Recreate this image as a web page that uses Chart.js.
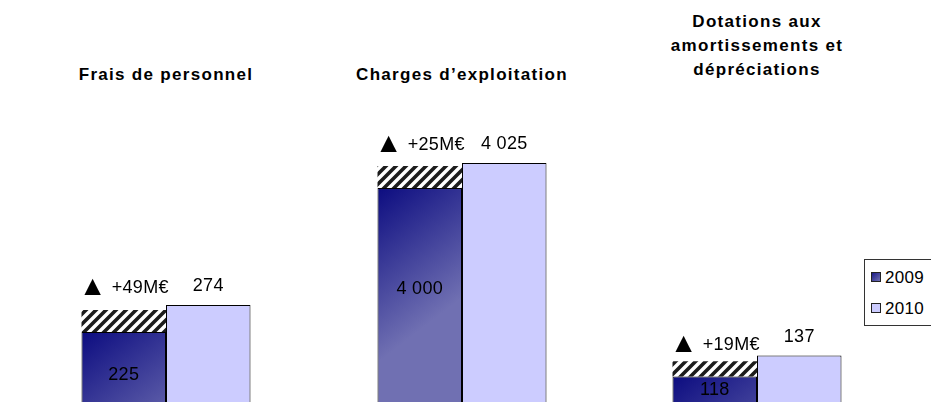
<!DOCTYPE html>
<html>
<head>
<meta charset="utf-8">
<script src="https://cdn.jsdelivr.net/npm/chart.js@4.4.0/dist/chart.umd.min.js"></script>
<style>
  body { margin: 0; background: #fff; }
  #wrap { position: relative; width: 931px; height: 402px; overflow: hidden; font-family: "Liberation Sans", Arial, sans-serif; }
  .box { position: absolute; top: 0; width: 200px; height: 402px; }
  .title { position: absolute; width: 260px; text-align: center; font-weight: bold; font-size: 17px; letter-spacing: 1.3px; line-height: 24px; color: #000; }
  #legend { position: absolute; left: 864px; top: 259px; width: 90px; height: 65px; border: 1px solid #333; }
  .item { position: absolute; left: 6px; height: 20px; line-height: 20px; font-size: 17px; letter-spacing: 0.3px; color: #000; }
  .sw { display: inline-block; width: 8px; height: 8px; border: 1px solid #222; margin-right: 4px; vertical-align: 1px; }
</style>
</head>
<body>
<div id="wrap"></div>
<script>
const categories = [
    ['Frais de personnel'],
    ['Charges d\u2019exploitation'],
    ['Dotations aux', 'amortissements et', 'dépréciations']
];
const years = ['2009', '2010'];
const values2009 = [225, 4000, 118];
const values2010 = [274, 4025, 137];
// top of the hatched block sitting on the 2009 bar
const hatchTop = [265, 4022, 132];
// each panel has its own cut axis
const axisMin = [98, 3786, 95];
const axisMax = [828, 4188, 459];

// where each panel sits on the page, and small text tweaks
const panels = [
    { left: 66, titleTop: 63, insideDy: 8, deltaGap: 17 },
    { left: 362, titleTop: 63, insideDy: -6, deltaGap: 16 },
    { left: 657, titleTop: 10, insideDy: 1, deltaGap: 11 }
];

const wrap = document.getElementById('wrap');
const barsShare = 0.845;
const labelFont = '18px "Liberation Sans", Arial, sans-serif';
const triFont = '28px "Liberation Sans", "DejaVu Sans", sans-serif';

function fmt(v) {
    return String(v).replace(/\B(?=(\d{3})+(?!\d))/g, ' ');
}

function makeHatch() {
    const s = 10;
    const c = document.createElement('canvas');
    c.width = s; c.height = s;
    const g = c.getContext('2d');
    g.fillStyle = '#fff';
    g.fillRect(0, 0, s, s);
    g.strokeStyle = '#1c1c1c';
    g.lineWidth = 3.6;
    g.beginPath();
    g.moveTo(-s, s); g.lineTo(s, -s);
    g.moveTo(0, 2 * s); g.lineTo(2 * s, 0);
    g.moveTo(0, s); g.lineTo(s, 0);
    g.stroke();
    return g.createPattern(c, 'repeat');
}

function darkFill(ctx) {
    const chart = ctx.chart;
    if (!chart.chartArea || ctx.parsed === undefined) return '#3c3c92';
    const xs = chart.scales.x, ys = chart.scales.y;
    const right = xs.getPixelForValue(0);
    const left = right - chart.chartArea.width * barsShare / 2;
    const top = ys.getPixelForValue(ctx.parsed.y);
    const g = chart.ctx.createLinearGradient(left, top, right, top + (right - left) * 1.3);
    g.addColorStop(0, '#0c0c80');
    g.addColorStop(1, '#7070b2');
    return g;
}

const labelPlugin = {
    id: 'barLabels',
    afterDatasetsDraw(chart, args, opts) {
        const i = opts.group;
        const c = chart.ctx;
        const bar09 = chart.getDatasetMeta(0).data[0];
        const hatch = chart.getDatasetMeta(1).data[0];
        const bar10 = chart.getDatasetMeta(2).data[0];
        const bottom = chart.chartArea.bottom;
        c.save();
        c.font = labelFont;
        c.letterSpacing = '0.3px';
        c.fillStyle = '#000';
        c.textAlign = 'center';
        c.textBaseline = 'middle';
        c.fillText(fmt(values2009[i]), bar09.x, (bar09.y + bottom) / 2 + opts.insideDy);
        c.textBaseline = 'alphabetic';
        c.fillText(fmt(values2010[i]), bar10.x, bar10.y - 14);

        // delta: big triangle + text, centred over the hatched block
        const txt = '+' + (values2010[i] - values2009[i]) + 'M\u20AC';
        const tw = c.measureText(txt).width;
        c.font = triFont;
        const triW = c.measureText('\u25B2').width;
        const gap = 5;
        const x0 = hatch.x - (triW + gap + tw) / 2;
        const yb = hatch.y - opts.deltaGap;
        c.textAlign = 'left';
        c.fillText('\u25B2', x0, yb + 2);
        c.font = labelFont;
        c.fillText(txt, x0 + triW + gap, yb);
        c.restore();
    }
};

const hatchFill = makeHatch();

categories.forEach((lines, i) => {
    const p = panels[i];

    const title = document.createElement('div');
    title.className = 'title';
    title.style.left = (p.left + 100 - 130) + 'px';
    title.style.top = p.titleTop + 'px';
    title.innerHTML = lines.join('<br>');
    wrap.appendChild(title);

    const box = document.createElement('div');
    box.className = 'box';
    box.style.left = p.left + 'px';
    const canvas = document.createElement('canvas');
    canvas.width = 200;
    canvas.height = 402;
    box.appendChild(canvas);
    wrap.appendChild(box);

    new Chart(canvas, {
        type: 'bar',
        data: {
            labels: [lines.join(' ')],
            datasets: [
                { label: years[0], data: [values2009[i]], stack: 'a', backgroundColor: darkFill, borderColor: '#000', borderWidth: 1 },
                { label: 'écart', data: [hatchTop[i] - values2009[i]], stack: 'a', backgroundColor: hatchFill, borderWidth: 0 },
                { label: years[1], data: [values2010[i]], stack: 'b', backgroundColor: '#ccccff', borderColor: '#000', borderWidth: 1 }
            ]
        },
        options: {
            responsive: false,
            animation: false,
            layout: { padding: 0 },
            categoryPercentage: barsShare,
            barPercentage: 1,
            scales: {
                x: { display: false },
                y: { display: false, stacked: true, min: axisMin[i], max: axisMax[i] }
            },
            plugins: {
                legend: { display: false },
                tooltip: { enabled: false },
                barLabels: { group: i, insideDy: p.insideDy, deltaGap: p.deltaGap }
            }
        },
        plugins: [labelPlugin]
    });
});

// legend
const legend = document.createElement('div');
legend.id = 'legend';
const swatches = ['linear-gradient(135deg, #1a1a86, #7070b2)', '#ccccff'];
years.forEach((y, k) => {
    const item = document.createElement('div');
    item.className = 'item';
    item.style.top = (8 + k * 31) + 'px';
    item.innerHTML = '<span class="sw" style="background:' + swatches[k] + '"></span>' + y;
    legend.appendChild(item);
});
wrap.appendChild(legend);
</script>
</body>
</html>
